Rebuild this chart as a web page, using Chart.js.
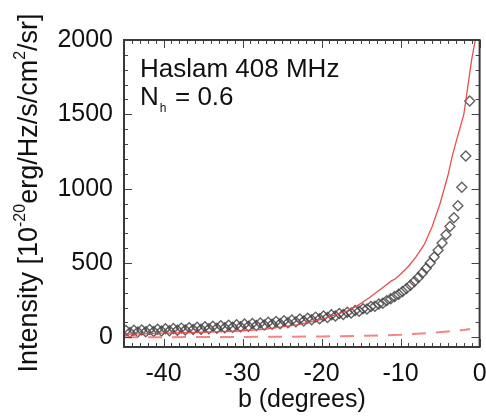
<!DOCTYPE html>
<html>
<head>
<meta charset="utf-8">
<script src="https://cdn.jsdelivr.net/npm/chart.js@4.4.0/dist/chart.umd.min.js"></script>
<style>
  html, body { margin: 0; padding: 0; background: #fff; }
</style>
</head>
<body>
<canvas id="haslamChart" width="486" height="419"></canvas>
<script>
// Datos: latitud b (grados) e intensidad
const obsB = [
  -44.75, -44.25, -43.75, -43.25, -42.75, -42.25, -41.75, -41.25, -40.75, -40.25,
  -39.75, -39.25, -38.75, -38.25, -37.75, -37.25, -36.75, -36.25, -35.75, -35.25,
  -34.75, -34.25, -33.75, -33.25, -32.75, -32.25, -31.75, -31.25, -30.75, -30.25,
  -29.75, -29.25, -28.75, -28.25, -27.75, -27.25, -26.75, -26.25, -25.75, -25.25,
  -24.75, -24.25, -23.75, -23.25, -22.75, -22.25, -21.75, -21.25, -20.75, -20.25,
  -19.75, -19.25, -18.75, -18.25, -17.75, -17.25, -16.75, -16.25, -15.75, -15.25,
  -14.75, -14.25, -13.75, -13.25, -12.75, -12.25, -11.75, -11.25, -10.75, -10.25,
  -9.75, -9.25, -8.75, -8.25, -7.75, -7.25, -6.75, -6.25, -5.75, -5.25,
  -4.75, -4.25, -3.75, -3.25, -2.75, -2.25, -1.75, -1.25
];
const obsI = [
  46, 33, 48, 36, 50, 38, 52, 40, 55, 42,
  57, 44, 60, 47, 62, 49, 65, 52, 68, 55,
  71, 58, 74, 61, 78, 64, 81, 68, 85, 71,
  89, 75, 93, 79, 97, 83, 101, 88, 106, 92,
  111, 98, 117, 104, 123, 110, 129, 118, 136, 125,
  144, 133, 152, 143, 160, 153, 169, 164, 180, 176,
  193, 191, 208, 209, 225, 230, 247, 260, 274, 290,
  308, 328, 350, 375, 402, 432, 465, 500, 540, 585,
  635, 690, 745, 805, 885, 1010, 1220, 1590
];

// Modelo (linea roja continua)
const modelB = [-45, -40, -35, -31, -27, -23, -20, -18.5, -17, -15.5, -14, -13, -12, -11.2, -10.7, -10, -9, -8, -7, -6, -5, -4, -3.5, -3, -2, -1.8, -1, -0.3];
const modelI = [20, 28, 35, 41, 55, 85, 120, 148, 172, 212, 265, 305, 345, 378, 392, 425, 478, 545, 625, 745, 900, 1090, 1210, 1310, 1500, 1570, 1870, 2070];

// Componente de halo (linea discontinua)
const haloB = [-45, -40, -35, -30, -25, -20, -15, -10, -8, -6, -4, -3, -2, -1.2];
const haloI = [0, 1, 2, 3, 4, 6, 10, 17, 24, 31, 39, 44, 50, 56];

const xTicks = [-40, -30, -20, -10, 0];
const yTicks = [0, 500, 1000, 1500, 2000];

const FONT = "'Liberation Sans', Arial, Helvetica, sans-serif";
const toPoints = (xs, ys) => xs.map((v, i) => ({ x: v, y: ys[i] }));

// Marco con marcas hacia dentro en los cuatro lados (estilo IDL)
const frameTicks = {
  id: "frameTicks",
  afterDatasetsDraw(chart) {
    const { ctx, chartArea: a, scales } = chart;
    const x = scales.x;
    const y = scales.y;
    ctx.save();
    ctx.strokeStyle = "#444";
    ctx.lineWidth = 1;
    ctx.beginPath();
    for (let v = -45; v <= 0; v += 1) {
      const px = Math.round(x.getPixelForValue(v)) + 0.5;
      const len = v % 10 === 0 ? 8 : 4;
      ctx.moveTo(px, a.bottom); ctx.lineTo(px, a.bottom - len);
      ctx.moveTo(px, a.top); ctx.lineTo(px, a.top + len);
    }
    for (let v = 0; v <= 2000; v += 100) {
      const py = Math.round(y.getPixelForValue(v)) + 0.5;
      const len = v % 500 === 0 ? 8 : 4;
      ctx.moveTo(a.left, py); ctx.lineTo(a.left + len, py);
      ctx.moveTo(a.right, py); ctx.lineTo(a.right - len, py);
    }
    ctx.stroke();
    ctx.lineWidth = 2;
    ctx.strokeStyle = "#3a3a3a";
    ctx.strokeRect(a.left, a.top, a.right - a.left, a.bottom - a.top);
    ctx.restore();
  },
  afterDraw(chart) {
    const { ctx, chartArea: a } = chart;
    ctx.save();
    ctx.fillStyle = "#111";
    ctx.textBaseline = "alphabetic";
    // Anotaciones
    ctx.font = "26px " + FONT;
    ctx.fillText("Haslam 408 MHz", a.left + 16, 77);
    ctx.fillText("N", a.left + 16, 105);
    const nW = ctx.measureText("N").width;
    ctx.font = "12px " + FONT;
    ctx.fillText("h", a.left + 17 + nW, 112);
    ctx.font = "26px " + FONT;
    ctx.fillText("= 0.6", a.left + 51, 105);

    // Titulo del eje y con superindices
    const parts = [
      { t: "Intensity [10", sup: false },
      { t: "-20", sup: true },
      { t: "erg/Hz/s/cm", sup: false },
      { t: "2", sup: true },
      { t: "/sr]", sup: false }
    ];
    const fontFor = (p) => (p.sup ? "16px " : "27px ") + FONT;
    let total = 0;
    parts.forEach((p) => { ctx.font = fontFor(p); total += ctx.measureText(p.t).width; });
    ctx.translate(37, 193 + total / 2);
    ctx.rotate(-Math.PI / 2);
    let cx = 0;
    parts.forEach((p) => {
      ctx.font = fontFor(p);
      ctx.fillText(p.t, cx, p.sup ? -12 : 0);
      cx += ctx.measureText(p.t).width;
    });
    ctx.restore();
  }
};

const ctx = document.getElementById("haslamChart").getContext("2d");
new Chart(ctx, {
  type: "scatter",
  data: {
    datasets: [
      {
        label: "Modelo",
        data: toPoints(modelB, modelI),
        showLine: true,
        borderColor: "rgba(232, 70, 70, 0.95)",
        borderWidth: 1.3,
        pointRadius: 0,
        tension: 0,
        order: 0
      },
      {
        label: "Halo",
        data: toPoints(haloB, haloI),
        showLine: true,
        borderColor: "rgba(242, 120, 120, 0.9)",
        borderWidth: 2,
        borderDash: [14, 10],
        pointRadius: 0,
        tension: 0,
        order: 1
      },
      {
        label: "Haslam 408 MHz",
        data: toPoints(obsB, obsI),
        pointStyle: "rectRot",
        pointRadius: 5,
        pointBorderWidth: 1.4,
        pointBorderColor: "rgba(70, 70, 70, 0.85)",
        pointBackgroundColor: "rgba(0, 0, 0, 0)",
        order: 2
      }
    ]
  },
  options: {
    responsive: false,
    animation: false,
    devicePixelRatio: 1,
    layout: { padding: { top: 40, right: 5, left: 0, bottom: 0 } },
    plugins: {
      legend: { display: false },
      tooltip: { enabled: false }
    },
    scales: {
      x: {
        type: "linear",
        min: -45,
        max: 0,
        afterBuildTicks: (s) => { s.ticks = xTicks.map((v) => ({ value: v })); },
        afterFit: (s) => { s.height = 72; s.paddingLeft = 0; s.paddingRight = 0; },
        grid: { display: false, drawTicks: false },
        border: { display: false },
        ticks: { color: "#111", font: { family: FONT, size: 25 }, padding: 12, maxRotation: 0, callback: (v) => String(v) },
        title: {
          display: true,
          text: "b (degrees)",
          color: "#111",
          font: { family: FONT, size: 25 },
          padding: { top: 0, bottom: 4 }
        }
      },
      y: {
        type: "linear",
        min: -65,
        max: 2000,
        afterBuildTicks: (s) => { s.ticks = yTicks.map((v) => ({ value: v })); },
        afterFit: (s) => { s.width = 124; },
        grid: { display: false, drawTicks: false },
        border: { display: false },
        ticks: { color: "#111", font: { family: FONT, size: 25 }, padding: 11, callback: (v) => String(v) }
      }
    }
  },
  plugins: [frameTicks]
});
</script>
</body>
</html>
